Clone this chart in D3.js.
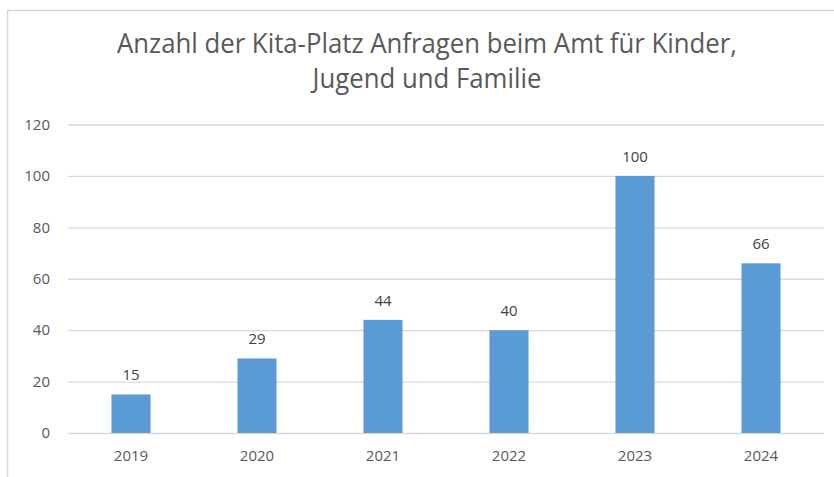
<!DOCTYPE html>
<html>
<head>
<meta charset="utf-8">
<script src="https://cdn.jsdelivr.net/npm/d3@7"></script>
<style>
  body { margin: 0; background: #fff; }
  text { font-family: 'Open Sans', sans-serif; }
</style>
</head>
<body>
<svg width="834" height="477"></svg>
<script>
const years = ['2019', '2020', '2021', '2022', '2023', '2024'];
const requests = [15, 29, 44, 40, 100, 66];
const yTicks = [0, 20, 40, 60, 80, 100, 120];
const titleLines = ['Anzahl der Kita-Platz Anfragen beim Amt für Kinder,', 'Jugend und Familie'];

const svg = d3.select('svg');

const plot = { left: 68, right: 824, top: 124.5, bottom: 433 };

// chart area frame (only top and left edges visible)
svg.append('path')
    .attr('d', 'M7.5,477 V10.5 H834')
    .attr('fill', 'none')
    .attr('stroke', '#d9d9d9')
    .attr('stroke-width', 1.5);

const x = d3.scaleBand()
    .domain(years)
    .range([plot.left, plot.right])
    .paddingInner(0.69)
    .paddingOuter(0.345);

const y = d3.scaleLinear()
    .domain([0, 120])
    .range([plot.bottom, plot.top]);

// gridlines + y labels
const yAxis = svg.append('g')
    .attr('transform', `translate(${plot.left},0)`)
    .call(d3.axisLeft(y).tickValues(yTicks).tickSize(-(plot.right - plot.left)).tickPadding(18));
yAxis.select('.domain').remove();
yAxis.selectAll('.tick line').attr('stroke', '#d9d9d9').attr('stroke-width', 1.3);
yAxis.selectAll('.tick text')
    .attr('fill', '#595959')
    .style('font-size', '15px');

// x labels
const xAxis = svg.append('g')
    .attr('transform', `translate(0,${plot.bottom})`)
    .call(d3.axisBottom(x).tickSize(0).tickPadding(17));
xAxis.select('.domain').remove();
xAxis.selectAll('.tick text')
    .attr('fill', '#595959')
    .style('font-size', '15px');

// bars
svg.append('g')
    .selectAll('rect')
    .data(requests)
    .enter()
    .append('rect')
    .attr('x', (d, i) => x(years[i]))
    .attr('y', d => y(d))
    .attr('width', x.bandwidth())
    .attr('height', d => plot.bottom - y(d))
    .attr('fill', '#5b9bd5');

// value labels
svg.append('g')
    .selectAll('text')
    .data(requests)
    .enter()
    .append('text')
    .attr('x', (d, i) => x(years[i]) + x.bandwidth() / 2)
    .attr('y', d => y(d) - 14)
    .attr('text-anchor', 'middle')
    .attr('fill', '#404040')
    .style('font-size', '15px')
    .text(d => d);

// title, squeezed to the width of the original
const title = svg.append('g');
const t1 = title.append('text')
    .attr('x', 427)
    .attr('y', 53)
    .attr('text-anchor', 'middle')
    .attr('fill', '#595959')
    .style('font-size', '27px')
    .text(titleLines[0]);
const ratio = 620 / t1.node().getComputedTextLength();
t1.attr('textLength', 620).attr('lengthAdjust', 'spacingAndGlyphs');
const t2 = title.append('text')
    .attr('x', 427)
    .attr('y', 88)
    .attr('text-anchor', 'middle')
    .attr('fill', '#595959')
    .style('font-size', '27px')
    .text(titleLines[1]);
t2.attr('textLength', t2.node().getComputedTextLength() * ratio).attr('lengthAdjust', 'spacingAndGlyphs');
</script>
</body>
</html>
